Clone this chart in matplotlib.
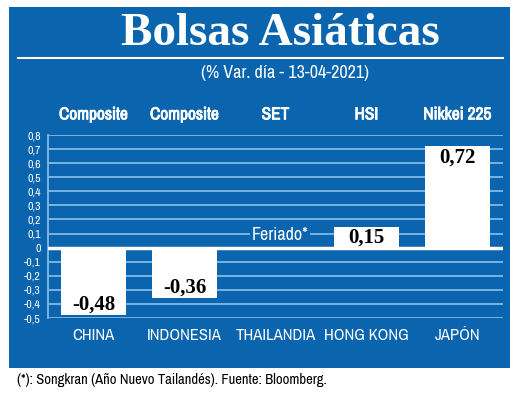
import matplotlib
matplotlib.use("Agg")
import matplotlib.pyplot as plt
from matplotlib.patches import Rectangle
from matplotlib.lines import Line2D
from matplotlib import font_manager as fm
import matplotlib.patheffects as pe

countries = ["CHINA", "INDONESIA", "THAILANDIA", "HONG KONG", "JAPÓN"]
indices = ["Composite", "Composite", "SET", "HSI", "Nikkei 225"]
values = [-0.48, -0.36, None, 0.15, 0.72]
yticks = [-0.5, -0.4, -0.3, -0.2, -0.1, 0, 0.1, 0.2, 0.3, 0.4, 0.5, 0.6, 0.7, 0.8]
title = "Bolsas Asiáticas"
subtitle = "(% Var. día - 13-04-2021)"
holiday = "Feriado*"
footer = "(*): Songkran (Año Nuevo Tailandés). Fuente: Bloomberg."

BLUE = "#0a64ae"
GRID = "#8cc0ea"
W, H = 520, 397

names = sorted({f.name for f in fm.fontManager.ttflist})
narrow = None
for n in names:
    if "Narrow" in n or "Condensed" in n:
        narrow = n
        break
COND = dict(family=narrow) if narrow else dict(family="DejaVu Sans", stretch="condensed")
BOLDFX = [pe.withStroke(linewidth=0.6, foreground="white")]

fig = plt.figure(figsize=(5.2, 3.97), dpi=100)
fig.patch.set_facecolor("white")

def fx(px): return px / W
def fy(py): return 1 - py / H

fig.patches.append(Rectangle((fx(9), fy(368)), fx(510) - fx(9), fy(7) - fy(368),
                             transform=fig.transFigure, facecolor=BLUE, edgecolor="none", zorder=-5))
fig.lines.append(Line2D([fx(18), fx(503)], [fy(58), fy(58)], transform=fig.transFigure,
                        color="white", lw=1.5))

fig.text(fx(280), fy(34), title, color="white", fontsize=34, fontweight="bold",
         family="Liberation Serif", ha="center", va="center")
fig.text(fx(285), fy(73), subtitle, color="white", fontsize=13, ha="center", va="center", **COND)

ax = fig.add_axes([fx(48), fy(318), fx(503) - fx(48), fy(135) - fy(318)])
ax.set_zorder(2)
ax.set_facecolor("none")
ax.set_xlim(-0.5, 4.5)
ax.set_ylim(-0.5, 0.8)

for t in yticks:
    if t == 0:
        continue
    ax.axhline(t, color=GRID, lw=1.2, zorder=1)
ax.axhline(0, color="white", lw=2.5, zorder=3)

xs = list(range(len(countries)))
for x, v in zip(xs, values):
    if v is None:
        continue
    ax.bar(x, v, width=0.72, color="white", zorder=2)
    lbl = f"{v:.2f}".replace(".", ",")
    if v < 0:
        ax.text(x, v + 0.005, lbl, ha="center", va="bottom", fontsize=15, fontweight="bold",
                family="Liberation Serif", color="black", zorder=4)
    else:
        ax.text(x, v - 0.01, lbl, ha="center", va="top", fontsize=15, fontweight="bold",
                family="Liberation Serif", color="black", zorder=4)

ax.text(2.05, 0.09, holiday, ha="center", va="center", fontsize=13, color="white",
        zorder=4, bbox=dict(facecolor=BLUE, edgecolor="none", pad=1), **COND)

for x, name in zip(xs, indices):
    ax.text(x, 1.11, name, transform=ax.get_xaxis_transform(), ha="center", va="center",
            fontsize=12.5, fontweight="bold", color="white", path_effects=BOLDFX, **COND)

ax.set_xticks(xs)
ax.set_xticklabels(countries, color="white", fontsize=12, **COND)
ax.tick_params(axis="x", length=0, pad=7)
ax.set_yticks(yticks)
ax.set_yticklabels([f"{t:.1f}".replace(".", ",") if t != 0 else "0" for t in yticks],
                   color="white", fontsize=8.5, **COND)
ax.tick_params(axis="y", length=0, pad=5)
for s in ["top", "right", "bottom"]:
    ax.spines[s].set_visible(False)
ax.spines["left"].set_color(GRID)
ax.spines["left"].set_linewidth(1.2)

fig.text(fx(17), fy(380), footer, color="black", fontsize=10.5, ha="left", va="center", **COND)

fig.savefig("out.png", dpi=100)
